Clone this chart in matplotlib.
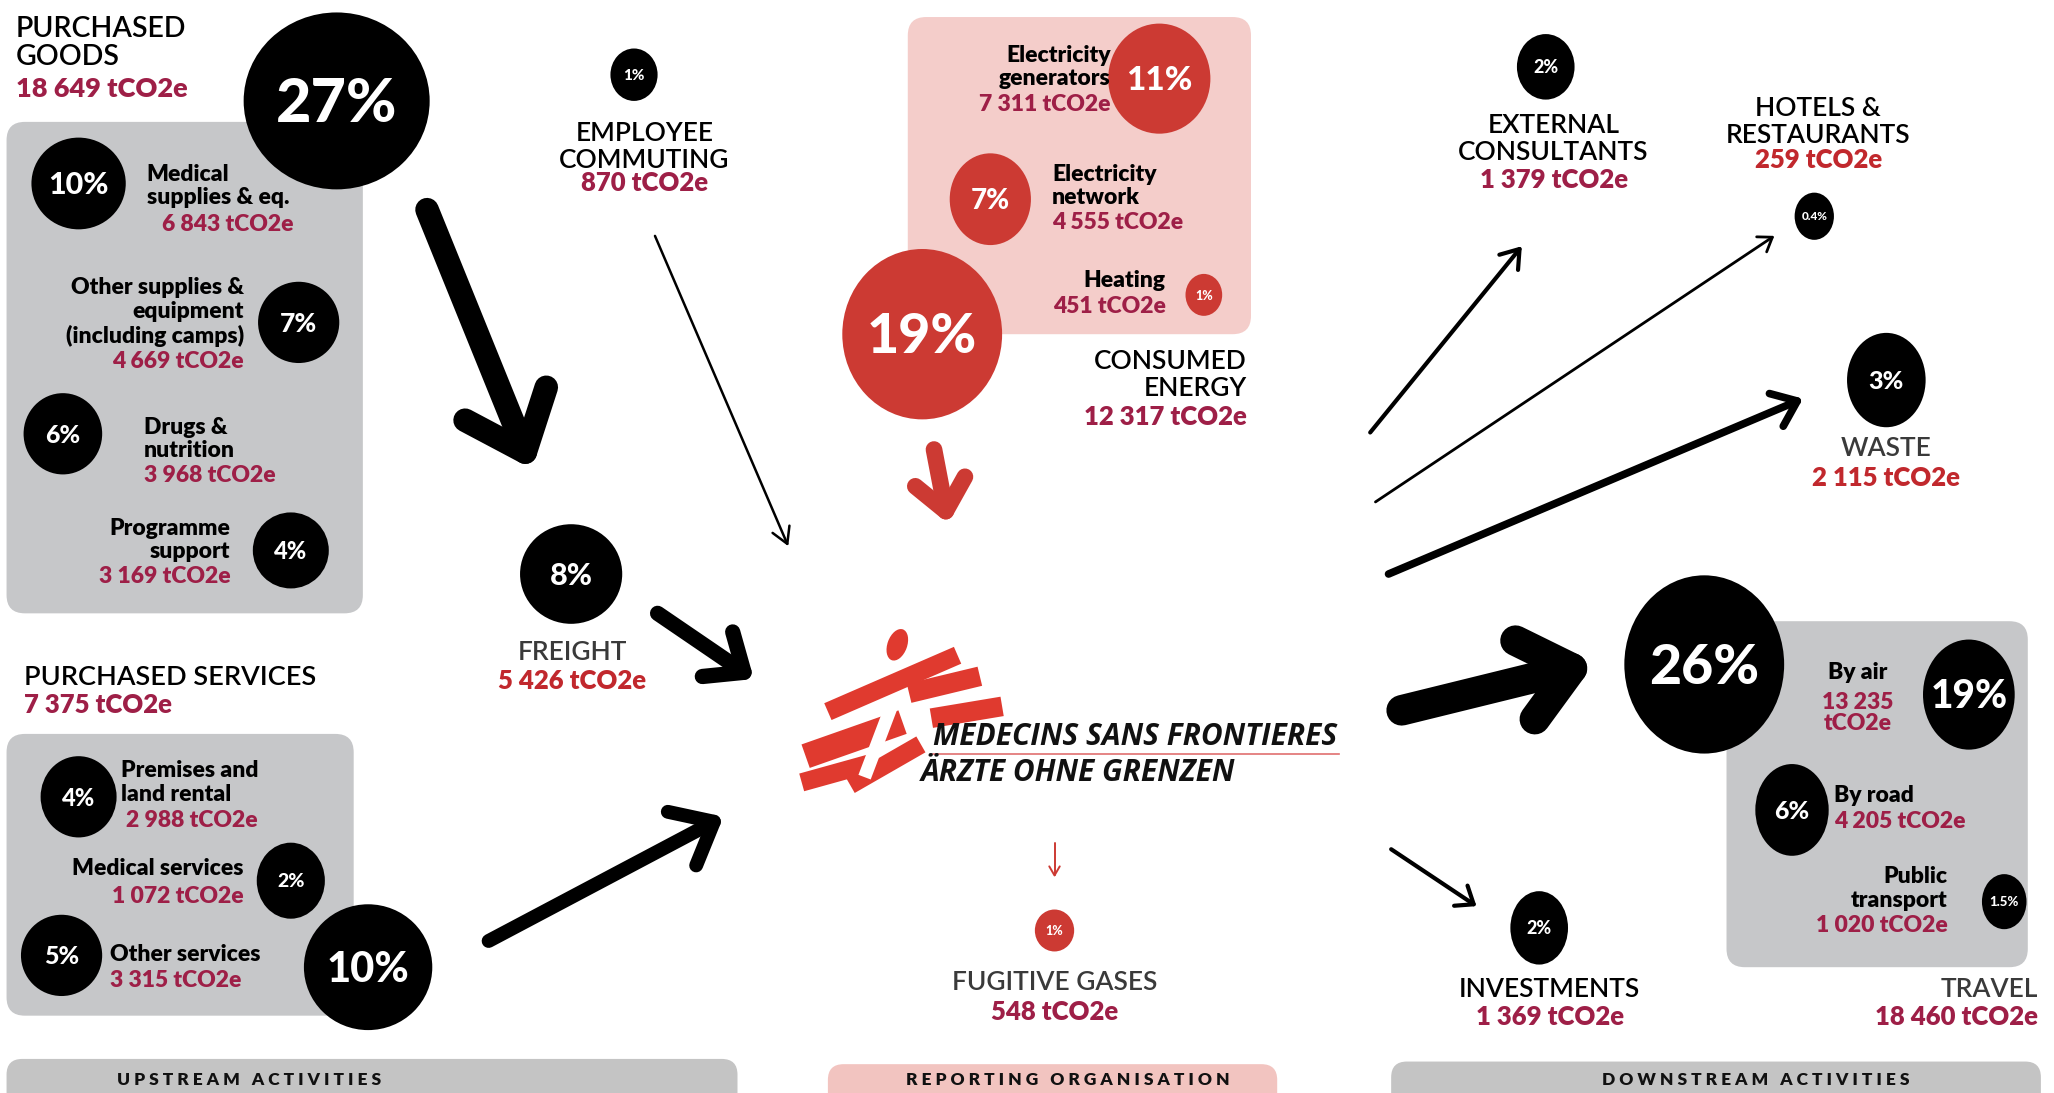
import numpy as np
import matplotlib
matplotlib.use("Agg")
import matplotlib.pyplot as plt
from matplotlib.patches import Ellipse, FancyBboxPatch

plt.rcParams['font.family'] = ['Lato', 'DejaVu Sans']

# ---------------- data ----------------
goods_total = 18649
goods_share = 27
goods_labels = ["Medical\nsupplies & eq.", "Other supplies &\nequipment\n(including camps)",
                "Drugs &\nnutrition", "Programme\nsupport"]
goods_values = [6843, 4669, 3968, 3169]
goods_shares = [10, 7, 6, 4]

services_total = 7375
services_share = 10
services_labels = ["Premises and\nland rental", "Medical services", "Other services"]
services_values = [2988, 1072, 3315]
services_shares = [4, 2, 5]

energy_total = 12317
energy_share = 19
energy_labels = ["Electricity\ngenerators", "Electricity\nnetwork", "Heating"]
energy_values = [7311, 4555, 451]
energy_shares = [11, 7, 1]

travel_total = 18460
travel_share = 26
travel_labels = ["By air", "By road", "Public\ntransport"]
travel_values = [13235, 4205, 1020]
travel_shares = [19, 6, 1.5]

single_labels = ["EMPLOYEE\nCOMMUTING", "FREIGHT", "FUGITIVE GASES", "EXTERNAL\nCONSULTANTS",
                 "HOTELS &\nRESTAURANTS", "WASTE", "INVESTMENTS"]
single_values = [870, 5426, 548, 1379, 259, 2115, 1369]
single_shares = [1, 8, 1, 2, 0.4, 3, 2]

section_labels = ["UPSTREAM ACTIVITIES", "REPORTING ORGANISATION", "DOWNSTREAM ACTIVITIES"]

# ---------------- style ----------------
BLACK = "#000000"
MAROON = "#9e1f47"
RED = "#c1282d"
RED_DOT = "#cc3a33"
GREY_BOX = "#c6c7c9"
PINK_BOX = "#f4cdca"
DARK = "#3a3a3a"

W, H = 1568, 834


def tco2(v):
    return f"{v:,}".replace(",", " ") + " tCO2e"


def pct(p):
    return f"{p:g}%"


fig = plt.figure(figsize=(20.54, 10.93), dpi=100)
ax = fig.add_axes([0, 0, 1, 1])
ax.set_xlim(0, W)
ax.set_ylim(H, 0)
ax.axis('off')


def box(x, y, w, h, color, r=14):
    ax.add_patch(FancyBboxPatch((x, y), w, h, boxstyle=f"round,pad=0,rounding_size={r}",
                                fc=color, ec='none', zorder=1))


def bubble(x, y, w, h, share, size, color=BLACK):
    ax.add_patch(Ellipse((x, y), w, h, fc=color, ec='none', zorder=3))
    ax.text(x, y + size * 0.06, pct(share), ha='center', va='center', color='white',
            fontsize=size, fontweight='black', zorder=4)


def label(x, y, s, ha, size=16.5, weight='heavy', color=BLACK, ls=1.15):
    ax.text(x, y, s, ha=ha, va='center', fontsize=size, fontweight=weight, color=color,
            linespacing=ls, zorder=4, multialignment=ha)


def arrow(x0, y0, x1, y1, lw, wing, color=BLACK, ang=40):
    ax.plot([x0, x1], [y0, y1], color=color, lw=lw, solid_capstyle='round', zorder=2)
    d = np.arctan2(y1 - y0, x1 - x0)
    a1 = d + np.pi - np.radians(ang)
    a2 = d + np.pi + np.radians(ang)
    ax.plot([x1 + wing * np.cos(a1), x1, x1 + wing * np.cos(a2)],
            [y1 + wing * np.sin(a1), y1, y1 + wing * np.sin(a2)],
            color=color, lw=lw, solid_capstyle='round', solid_joinstyle='round', zorder=2)


# ---------------- background boxes ----------------
box(5, 93, 272, 375, GREY_BOX)
box(5, 560, 265, 215, GREY_BOX)
box(1318, 474, 230, 264, GREY_BOX)
box(693, 13, 262, 242, PINK_BOX)

# bottom section bars
bars = [(5, 808, 558, "#c4c4c4", 190), (632, 812, 343, "#f2c4c0", 815), (1062, 810, 496, "#c4c4c4", 1340)]
for (bx, by, bw, bc, tx), name in zip(bars, section_labels):
    box(bx, by, bw, 40, bc, r=12)
    spaced = "   ".join(" ".join(word) for word in name.split())
    ax.text(tx, 824, spaced, ha='center', va='center', fontsize=12.5, fontweight='heavy',
            color="#111111", zorder=4)

# ---------------- arrows ----------------
arrow(326, 160, 401, 345, 17, 52)
arrow(500, 180, 601, 415, 1.8, 14, ang=30)
arrow(502, 468, 568, 513, 11, 32)
arrow(373, 718, 545, 627, 10, 36)
arrow(713, 343, 722, 390, 12, 30, color=RED_DOT)
arrow(805, 643, 805, 668, 1.4, 8, color=RED_DOT, ang=30)
arrow(1046, 330, 1160, 190, 3, 16, ang=35)
arrow(1050, 383, 1353, 181, 2, 12, ang=35)
arrow(1060, 438, 1372, 306, 5.5, 22, ang=38)
arrow(1070, 542, 1200, 510, 22, 48)
arrow(1062, 648, 1125, 690, 3, 15, ang=38)

# ---------------- purchased goods ----------------
label(12, 33, "PURCHASED\nGOODS", 'left', size=20.5, weight='semibold', ls=1.1)
label(12, 68, tco2(goods_total), 'left', size=19.5, color=MAROON)
bubble(257, 77, 142, 135, goods_share, 44)
goods_bub = [(60, 140, 72, 70, 22), (228, 246, 62, 62, 19), (48, 331, 60, 62, 18), (222, 420, 58, 58, 17)]
goods_txt = [(112, 142, 'left', 124, 171), (186, 238, 'right', 186, 276),
             (110, 335, 'left', 110, 363), (176, 412, 'right', 176, 440)]
for (bx, by, bw, bh, fs), (tx, ty, ha, vx, vy), lab, val, sh in zip(goods_bub, goods_txt, goods_labels,
                                                                    goods_values, goods_shares):
    bubble(bx, by, bw, bh, sh, fs)
    label(tx, ty, lab, ha)
    label(vx, vy, tco2(val), ha, color=MAROON)

# ---------------- purchased services ----------------
label(18, 517, "PURCHASED SERVICES", 'left', size=19.5, weight='semibold')
label(18, 538, tco2(services_total), 'left', size=18.5, color=MAROON)
bubble(281, 738, 98, 96, services_share, 30)
serv_bub = [(60, 608, 58, 62, 17), (222, 672, 52, 58, 14), (47, 729, 62, 62, 18)]
serv_txt = [(92, 597, 'left', 96, 626), (186, 663, 'right', 186, 684), (84, 728, 'left', 84, 748)]
for (bx, by, bw, bh, fs), (tx, ty, ha, vx, vy), lab, val, sh in zip(serv_bub, serv_txt, services_labels,
                                                                    services_values, services_shares):
    bubble(bx, by, bw, bh, sh, fs)
    label(tx, ty, lab, ha)
    label(vx, vy, tco2(val), ha, color=MAROON)

# ---------------- consumed energy ----------------
bubble(704, 255, 122, 130, energy_share, 40, color=RED_DOT)
label(952, 286, "CONSUMED\nENERGY", 'right', size=19, weight='semibold', ls=1.1)
label(952, 318, tco2(energy_total), 'right', size=18.5, color=MAROON)
en_bub = [(885, 60, 78, 84, 24), (756, 152, 62, 70, 20), (919, 225, 28, 32, 9)]
en_txt = [(848, 51, 'right', 848, 80), (803, 142, 'left', 803, 170), (890, 214, 'right', 890, 234)]
for (bx, by, bw, bh, fs), (tx, ty, ha, vx, vy), lab, val, sh in zip(en_bub, en_txt, energy_labels,
                                                                    energy_values, energy_shares):
    bubble(bx, by, bw, bh, sh, fs, color=RED_DOT)
    label(tx, ty, lab, ha)
    label(vx, vy, tco2(val), ha, color=MAROON)

# ---------------- travel ----------------
bubble(1301, 507, 122, 136, travel_share, 40)
label(1556, 755, "TRAVEL", 'right', size=19, weight='semibold', color=DARK)
label(1556, 776, tco2(travel_total), 'right', size=18.5, color=MAROON)
tr_bub = [(1503, 530, 70, 84, 28), (1368, 618, 56, 70, 18), (1530, 688, 34, 42, 9.5)]
tr_txt = [(1418, 513, 'center', 1418, 544), (1400, 607, 'left', 1400, 627), (1487, 678, 'right', 1487, 706)]
for i, ((bx, by, bw, bh, fs), (tx, ty, ha, vx, vy), lab, val, sh) in enumerate(
        zip(tr_bub, tr_txt, travel_labels, travel_values, travel_shares)):
    bubble(bx, by, bw, bh, sh, fs)
    label(tx, ty, lab, ha)
    vtxt = tco2(val).replace(" tCO2e", "\ntCO2e") if i == 0 else tco2(val)
    label(vx, vy, vtxt, ha, color=MAROON, ls=1.0)

# ---------------- single categories ----------------
single_bub = [(484, 57, 36, 40, 11, BLACK), (436, 438, 78, 76, 22, BLACK), (805, 710, 30, 32, 9, RED_DOT),
              (1180, 51, 44, 50, 13, BLACK), (1385, 165, 30, 36, 8.5, BLACK), (1440, 290, 60, 72, 18, BLACK),
              (1175, 708, 44, 56, 13, BLACK)]
single_txt = [(492, 112, 140, BLACK, MAROON), (437, 498, 520, DARK, RED), (805, 750, 772, DARK, MAROON),
              (1186, 106, 137, BLACK, MAROON), (1388, 93, 122, BLACK, RED), (1440, 342, 365, DARK, RED),
              (1183, 755, 776, BLACK, MAROON)]
for (bx, by, bw, bh, fs, bc), (tx, ty, vy, lc, vc), lab, val, sh in zip(single_bub, single_txt, single_labels,
                                                                        single_values, single_shares):
    bubble(bx, by, bw, bh, sh, fs, color=bc)
    label(tx, ty, lab, 'center', size=19, weight='semibold', color=lc, ls=1.1)
    label(tx, vy, tco2(val), 'center', size=18.5, color=vc)

# ---------------- MSF logo ----------------
strokes = [((632, 543), (731, 500), 14), ((694, 529), (748, 516), 15), ((711, 548), (765, 539), 15),
           ((615, 577), (689, 551), 19), ((612, 597), (666, 582), 14), ((649, 599), (703, 568), 14)]
for (p0, p1, t) in strokes:
    ax.plot([p0[0], p1[0]], [p0[1], p1[1]], color="#e03a2f", lw=t * 0.943, solid_capstyle='butt', zorder=2)
ax.add_patch(Ellipse((685, 492), 15, 25, angle=20, fc="#e03a2f", ec='none', zorder=2))
ax.plot([660, 682], [593, 535], color='white', lw=10 * 0.943, solid_capstyle='butt', zorder=2)
ax.text(712, 562, "MEDECINS SANS FRONTIERES", ha='left', va='center', fontsize=21.5, fontweight='bold',
        style='italic', family='Open Sans', color="#111111", zorder=4)
ax.plot([712, 1022], [575, 575], color="#e07070", lw=1.2, zorder=2)
ax.text(703, 590, "ÄRZTE OHNE GRENZEN", ha='left', va='center', fontsize=21.5, fontweight='bold',
        style='italic', family='Open Sans', color="#111111", zorder=4)

fig.savefig("out.png", dpi=100)
